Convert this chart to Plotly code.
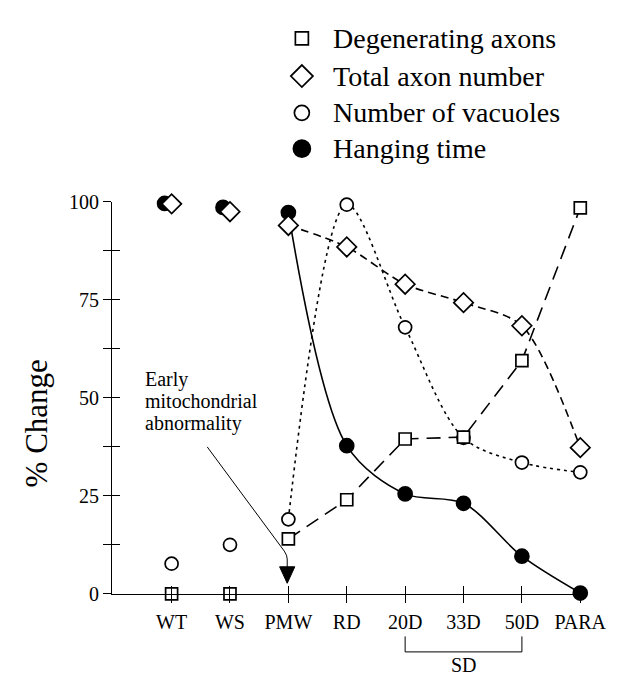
import plotly.graph_objects as go

categories = ["WT", "WS", "PMW", "RD", "20D", "33D", "50D", "PARA"]
degenerating_axons = [0, 0, 14, 24, 39.5, 40, 59.5, 98.5]
total_axon_number = [99.5, 97.5, 94, 88.5, 79, 74.3, 68.4, 37.3]
number_of_vacuoles = [7.7, 12.5, 19, 99.3, 68, 39.8, 33.5, 31]
hanging_time = [99.6, 98.6, 97.3, 37.8, 25.5, 23.1, 9.6, 0.2]
y_ticks = [0, 25, 50, 75, 100]
legend_names = ["Degenerating axons", "Total axon number", "Number of vacuoles", "Hanging time"]

FONT = "Liberation Serif"
W, H = 630, 682
# plot area in pixels
PL, PR, PT, PB = 108, 597, 189, 594
xdom = [PL / W, PR / W]
ydom = [(H - PB) / H, (H - PT) / H]
xi = list(range(len(categories)))
first_line = 2  # connecting lines start at PMW

fig = go.Figure()

styles = {
    "Degenerating axons": dict(symbol="square", size=12, fill="white", dash="14px,8px", shape="linear", sm=0, lsize=13),
    "Total axon number": dict(symbol="diamond", size=15, fill="white", dash="8px,5px", shape="spline", sm=0.8, lsize=17),
    "Number of vacuoles": dict(symbol="circle", size=13, fill="white", dash="3px,4px", shape="spline", sm=0.9, lsize=15),
    "Hanging time": dict(symbol="circle", size=14, fill="black", dash="solid", shape="spline", sm=0.9, lsize=17),
}
series = {
    "Degenerating axons": degenerating_axons,
    "Total axon number": total_axon_number,
    "Number of vacuoles": number_of_vacuoles,
    "Hanging time": hanging_time,
}

def add_series(name, xshift=0.0, xshift_n=0):
    st = styles[name]
    vals = series[name]
    xs = [x + (xshift if i < xshift_n else 0) for i, x in enumerate(xi)]
    mk = dict(symbol=st["symbol"], size=st["size"], color=st["fill"], line=dict(color="black", width=1.7))
    fig.add_trace(go.Scatter(
        x=xs[first_line:], y=vals[first_line:], mode="lines+markers",
        line=dict(color="black", width=1.6, dash=st["dash"], shape=st["shape"], smoothing=st["sm"]),
        marker=mk, cliponaxis=False, showlegend=False, name=name))
    fig.add_trace(go.Scatter(
        x=xs[:first_line], y=vals[:first_line], mode="markers",
        marker=mk, cliponaxis=False, showlegend=False, name=name))

add_series("Hanging time", xshift=-0.12, xshift_n=2)
add_series("Number of vacuoles")
add_series("Degenerating axons")
add_series("Total axon number")

# overlay axes: inside ticks so ticks cross the axis lines
fig.add_trace(go.Scatter(x=[None], y=[None], xaxis="x2", yaxis="y2", showlegend=False))

# legend keys drawn on a full-page pixel helper axis (x3/y3)
leg_marker_x = 305
leg_text_x = 335
leg_rows = [20, 59, 97, 134]
fig.add_trace(go.Scatter(
    x=[leg_marker_x] * 4, y=leg_rows, mode="markers", xaxis="x3", yaxis="y3",
    marker=dict(symbol=[styles[n]["symbol"] for n in legend_names],
                size=[styles[n]["lsize"] for n in legend_names],
                color=[styles[n]["fill"] for n in legend_names],
                opacity=1, line=dict(color="black", width=1.7)),
    cliponaxis=False, showlegend=False, hoverinfo="skip"))
for n, ry in zip(legend_names, leg_rows):
    fig.add_annotation(text=n, xref="x3", yref="y3", x=leg_text_x, y=ry, xanchor="left",
                       yanchor="middle", showarrow=False, font=dict(size=28, family=FONT))

xr = [-1.02, 7.05]
fig.update_layout(
    width=W, height=H,
    margin=dict(l=0, r=0, t=0, b=0),
    paper_bgcolor="white", plot_bgcolor="rgba(0,0,0,0)",
    font=dict(family=FONT, color="black", size=20),
    showlegend=False,
    xaxis=dict(domain=xdom, range=xr, tickvals=xi, ticktext=categories, showline=True, linecolor="black",
               linewidth=1.3, ticks="outside", ticklen=8, tickwidth=1.2, tickcolor="black",
               showgrid=False, zeroline=False, tickfont=dict(size=20), ticklabelstandoff=2),
    yaxis=dict(domain=ydom, range=[0, 100], tickvals=y_ticks, showline=True, linecolor="black", linewidth=1.3,
               ticks="outside", ticklen=8, tickwidth=1.2, tickcolor="black",
               minor=dict(dtick=12.5, tick0=0, ticks="outside", ticklen=8, tickwidth=1.2, tickcolor="black"),
               showgrid=False, zeroline=False, tickfont=dict(size=20)),
    xaxis2=dict(domain=xdom, range=xr, overlaying="x", anchor="y2", tickvals=xi, ticks="inside", ticklen=8,
                tickwidth=1.2, tickcolor="black", showticklabels=False, showline=False,
                showgrid=False, zeroline=False),
    yaxis2=dict(domain=ydom, range=[0, 100], overlaying="y", anchor="x2", side="left", tickvals=y_ticks,
                ticks="inside", ticklen=8, tickwidth=1.2, tickcolor="black", showticklabels=False,
                minor=dict(dtick=12.5, tick0=0, ticks="inside", ticklen=8, tickwidth=1.2, tickcolor="black"),
                showline=False, showgrid=False, zeroline=False),
    xaxis3=dict(domain=[0, 1], range=[0, W], anchor="y3", visible=False, fixedrange=True),
    yaxis3=dict(domain=[0, 1], range=[H, 0], anchor="x3", visible=False, fixedrange=True),
)

# y-axis title
fig.add_annotation(text="% Change", xref="x3", yref="y3", x=30, y=418, textangle=-90,
                   showarrow=False, font=dict(size=31, family=FONT), xanchor="center", yanchor="middle")

# Early mitochondrial abnormality note (one annotation per line for tighter leading)
note_lines = ["Early", "mitochondrial", "abnormality"]
note_rows = [372, 395, 418]
for t, ry in zip(note_lines, note_rows):
    fig.add_annotation(text=t, xref="x3", yref="y3", x=140, y=ry, xanchor="left", yanchor="middle",
                       showarrow=False, font=dict(size=20, family=FONT))
fig.add_shape(type="path", xref="x", yref="y",
              path="M 0.61 37.5 L 1.93 10.9 Q 1.98 9.8 1.98 8.9 L 1.98 6.8",
              line=dict(color="black", width=1))
fig.add_shape(type="path", xref="x", yref="y",
              path="M 1.85 6.9 L 2.11 6.9 L 1.98 2.7 Z", fillcolor="black", line=dict(color="black", width=1))

# SD bracket
fig.add_shape(type="path", xref="x", yref="y3",
              path="M 4 638 L 4 654 L 6 654 L 6 638", line=dict(color="black", width=1))
fig.add_annotation(text="SD", xref="x", yref="y3", x=5, y=668, showarrow=False,
                   font=dict(size=20, family=FONT), xanchor="center", yanchor="middle")

fig.write_html("out.html")
